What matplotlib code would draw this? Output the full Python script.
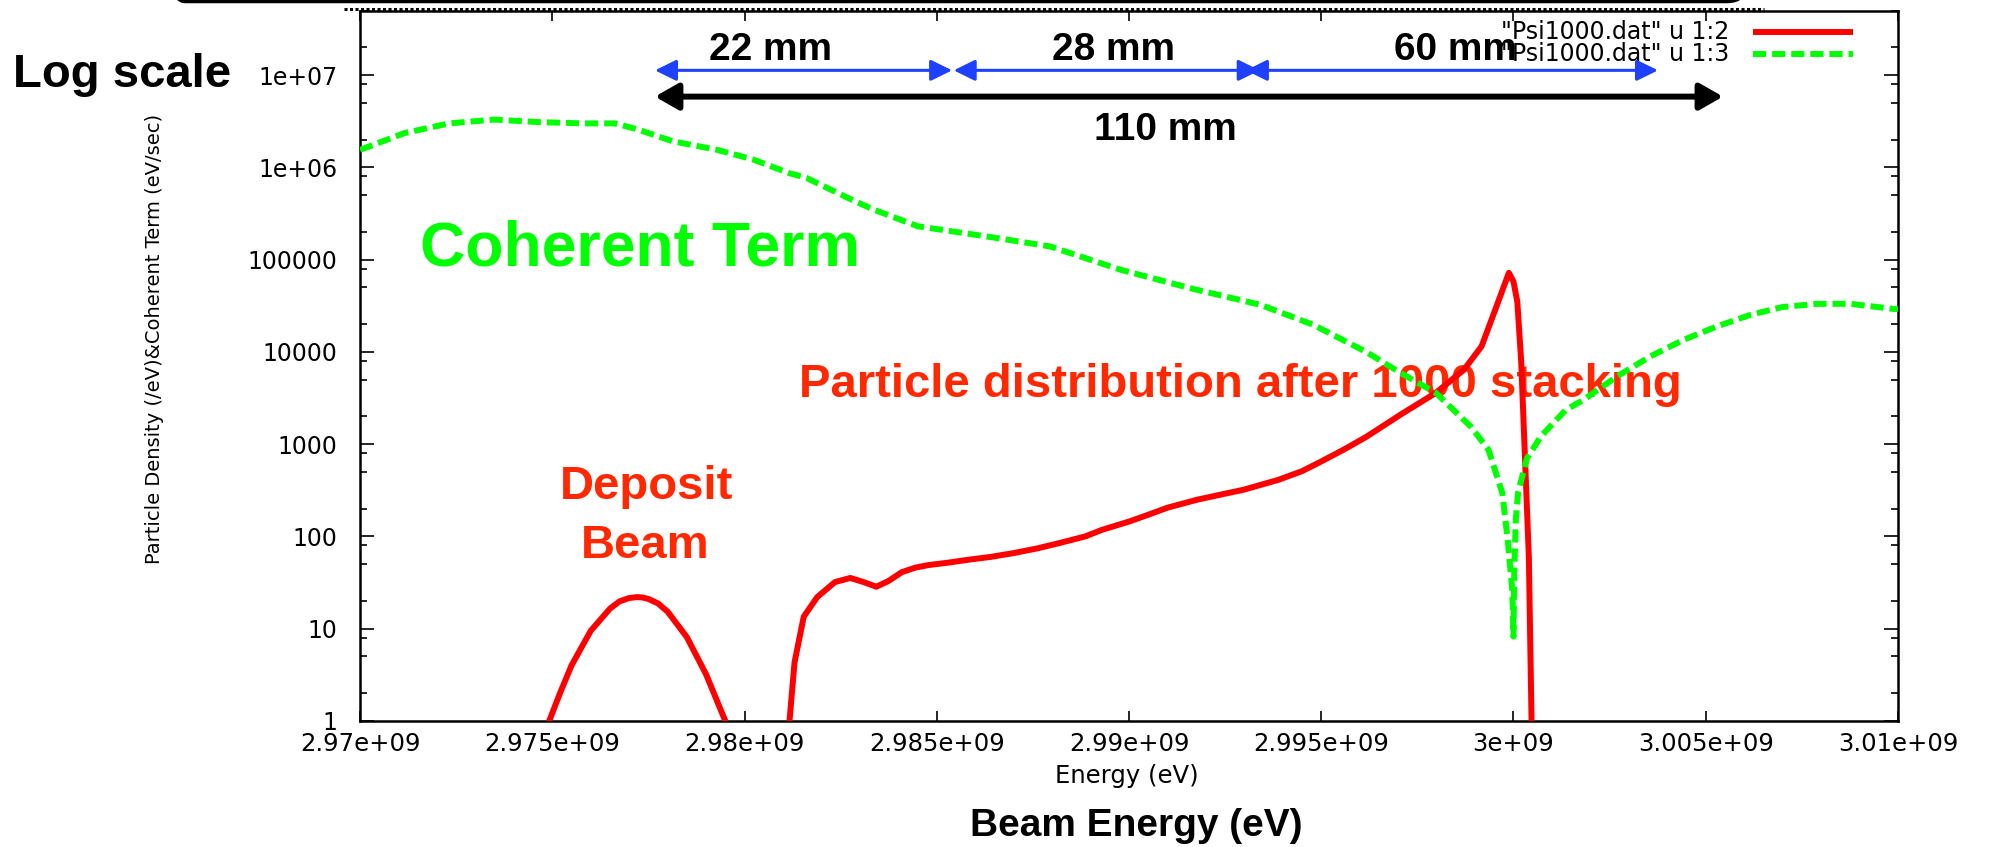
#!/usr/bin/python
# -*- coding: utf8 -*-
"""
Psi1000.dat : particle distribution and coherent term vs beam energy
"""

import numpy as np
import matplotlib
matplotlib.use('Agg')
import matplotlib.pyplot as plt
from matplotlib.ticker import FixedLocator, LogLocator, FuncFormatter, NullFormatter
from matplotlib.patches import FancyBboxPatch
from matplotlib.lines import Line2D

E0 = 2.97e9  # energies below are offsets from 2.97 GeV, in MeV

# "Psi1000.dat" u 1:2 -- particle density (/eV), zeros where gnuplot drops the log
red_mev = [0.0, 4.80, 4.92, 5.20, 5.50, 6.00, 6.50, 6.75, 7.00, 7.20, 7.35, 7.50,
           7.75, 8.00, 8.50, 9.00, 9.50, 9.65, 10.30, 11.05, 11.17, 11.30, 11.54,
           11.89, 12.35, 12.75, 13.10, 13.43, 13.75, 14.09, 14.45, 14.79, 15.30,
           15.83, 16.40, 17.00, 17.60, 18.15, 18.86, 19.30, 20.00, 20.47, 21.00,
           21.77, 22.40, 22.97, 23.88, 24.50, 25.00, 25.60, 26.17, 27.07, 27.98,
           28.71, 29.17, 29.53, 29.88, 30.00, 30.10, 30.20, 30.30, 30.40, 30.47,
           30.60, 40.00]
red_val = [0, 0, 1.0, 2.0, 4.0, 9.5, 16.5, 19.8, 21.5, 22.0, 21.8, 21.0,
           18.8, 15.3, 8.1, 3.2, 1.0, 0, 0, 0, 1.0, 4.3, 13.5,
           22, 32, 35.5, 32, 28.5, 33, 41, 46, 49, 52,
           56, 60, 66, 74, 84, 100, 118, 145, 170, 205,
           250, 285, 320, 410, 510, 650, 880, 1200, 2100, 3600,
           6400, 11500, 29000, 72000, 58000, 35000, 8000, 700, 60, 1.0,
           0, 0]

# "Psi1000.dat" u 1:3 -- coherent term (eV/sec)
green_mev = [0.0, 1.16, 2.32, 3.48, 4.64, 5.80, 6.62, 7.20, 8.13, 9.29, 10.22,
             11.15, 11.61, 12.77, 13.35, 14.51, 15.68, 16.83, 17.95, 19.77, 21.60,
             23.42, 24.79, 26.17, 27.07, 27.98, 28.89, 29.35, 29.71, 29.85, 29.97,
             30.00, 30.02, 30.06, 30.12, 30.35, 30.71, 30.95, 31.36, 31.82, 32.69,
             33.56, 34.42, 35.29, 36.16, 37.00, 37.90, 38.77, 39.90, 40.00]
green_val = [1.55e6, 2.36e6, 3.0e6, 3.3e6, 3.1e6, 3.0e6, 3.0e6, 2.6e6, 1.92e6, 1.55e6, 1.22e6,
             8.7e5, 7.7e5, 4.5e5, 3.5e5, 2.3e5, 1.95e5, 1.65e5, 1.39e5, 7.8e4, 4.9e4,
             3.24e4, 1.97e4, 1.0e4, 5.9e3, 3.6e3, 1.55e3, 870, 295, 92, 26,
             8.2, 40, 150, 300, 700, 1210, 1550, 2350, 3020, 5420,
             8950, 13500, 18900, 25200, 30700, 33200, 33200, 29200, 29000]

x_ticks = [2.97e9, 2.975e9, 2.98e9, 2.985e9, 2.99e9, 2.995e9, 3.0e9, 3.005e9, 3.01e9]
legend_labels = ['"Psi1000.dat" u 1:2', '"Psi1000.dat" u 1:3']

# length bars (start, end energy in eV) and their labels
blue_spans = [(2.97767e9, 2.98540e9), (2.98544e9, 2.99340e9), (2.99304e9, 3.00376e9)]
blue_labels = ['22 mm', '28 mm', '60 mm']
total_span = (2.97767e9, 3.00545e9)
total_label = '110 mm'

RED = '#ff0000'
GREEN = '#00ff00'
BLUE = '#1e40ff'
TEXT_RED = '#ff2800'
BOLD = dict(family='Liberation Sans', weight='bold')


def main():
    fig = plt.figure(figsize=(19.97, 8.47), dpi=100)
    ax = fig.add_axes([0.1803, 0.1488, 0.7701, 0.8386])

    e_red = E0 + 1e6 * np.array(red_mev)
    e_green = E0 + 1e6 * np.array(green_mev)
    ax.plot(e_red, red_val, color=RED, lw=4.3, zorder=3, solid_capstyle='butt',
            solid_joinstyle='round')
    ax.plot(e_green, green_val, color=GREEN, lw=4.3, zorder=4,
            linestyle=(0, (2.2, 1.0)), dash_capstyle='butt')

    ax.set_yscale('log')
    ax.set_xlim(2.97e9, 3.01e9)
    ax.set_ylim(1, 5e7)

    ax.xaxis.set_major_locator(FixedLocator(x_ticks))
    ax.xaxis.set_major_formatter(FuncFormatter(lambda v, p: '%g' % v))
    ax.yaxis.set_major_locator(LogLocator(base=10, numticks=20))
    ax.yaxis.set_minor_locator(LogLocator(base=10, subs=(2, 5, 8), numticks=20))
    ax.yaxis.set_major_formatter(FuncFormatter(lambda v, p: '%g' % v))
    ax.yaxis.set_minor_formatter(NullFormatter())

    ax.tick_params(axis='x', which='major', direction='in', length=7.2, width=1.2,
                   top=True, bottom=True, labelsize=17.5, pad=8)
    ax.tick_params(axis='y', which='major', direction='in', length=10, width=1.2,
                   left=True, right=True, labelsize=17, pad=16.5)
    ax.tick_params(axis='y', which='minor', direction='in', length=5, width=1.2,
                   left=True, right=True)
    for s in ax.spines.values():
        s.set_linewidth(1.8)

    ax.text(0.4987, -0.0873, 'Energy (eV)', transform=ax.transAxes,
            ha='center', va='baseline', fontsize=17.5)
    fig.text(155 / 1997, 1 - 339 / 847, 'Particle Density (/eV)&Coherent Term (eV/sec)',
             rotation=90, ha='center', va='center', fontsize=14)

    # legend, gnuplot style (text first, sample on the right)
    styles = [dict(color=RED, lw=4.3, solid_capstyle='butt'),
              dict(color=GREEN, lw=4.3, linestyle=(0, (2.2, 1.0)), dash_capstyle='butt')]
    for i, (lab, st) in enumerate(zip(legend_labels, styles)):
        y = 0.970 - 0.031 * i
        ax.add_line(Line2D([0.9057, 0.9707], [y, y], transform=ax.transAxes, **st))
        ax.text(0.890, y - 0.0095, lab, transform=ax.transAxes,
                ha='right', va='baseline', fontsize=17)

    # length bars
    for (a, b), lab, tx in zip(blue_spans, blue_labels, [0.2666, 0.4902, 0.712]):
        ax.annotate('', xy=(b, 0.916), xytext=(a, 0.916),
                    xycoords=('data', 'axes fraction'), textcoords=('data', 'axes fraction'),
                    arrowprops=dict(arrowstyle='<|-|>,head_length=0.65,head_width=0.32',
                                    mutation_scale=20, color=BLUE, lw=2.2,
                                    shrinkA=0, shrinkB=0))
        ax.text(tx, 0.9306, lab, transform=ax.transAxes, ha='center', va='baseline',
                fontsize=28, color='black', **BOLD)
    ax.annotate('', xy=(total_span[1], 0.879), xytext=(total_span[0], 0.879),
                xycoords=('data', 'axes fraction'), textcoords=('data', 'axes fraction'),
                arrowprops=dict(arrowstyle='<|-|>,head_length=0.7,head_width=0.4',
                                mutation_scale=20, color='black', lw=4.3,
                                shrinkA=0, shrinkB=0))
    ax.text(0.5234, 0.818, total_label, transform=ax.transAxes, ha='center',
            va='baseline', fontsize=28, **BOLD)

    # overlay captions
    ax.text(-0.2256, 0.8926, 'Log scale', transform=ax.transAxes, ha='left',
            va='baseline', fontsize=34, zorder=1, clip_on=False, **BOLD)
    ax.text(0.039, 0.6406, 'Coherent Term', transform=ax.transAxes, ha='left',
            va='baseline', fontsize=45, color=GREEN, zorder=1, **BOLD)
    ax.text(0.5722, 0.4561, 'Particle distribution after 1000 stacking',
            transform=ax.transAxes, ha='center', va='baseline', fontsize=34,
            color=TEXT_RED, zorder=1, **BOLD)
    ax.text(0.186, 0.3125, 'Deposit', transform=ax.transAxes, ha='center',
            va='baseline', fontsize=34, color=TEXT_RED, zorder=1, **BOLD)
    ax.text(0.1856, 0.2295, 'Beam', transform=ax.transAxes, ha='center',
            va='baseline', fontsize=34, color=TEXT_RED, zorder=1, **BOLD)
    ax.text(0.5046, -0.1619, 'Beam Energy (eV)', transform=ax.transAxes, ha='center',
            va='baseline', fontsize=28, clip_on=False, **BOLD)

    # bits of the slide frame above the plot
    box = FancyBboxPatch((1.65, 8.455), 15.82, 1.0,
                         boxstyle='round,pad=0,rounding_size=0.2',
                         transform=fig.dpi_scale_trans, fill=False,
                         edgecolor='black', lw=2.5, clip_on=False)
    fig.add_artist(box)
    fig.add_artist(Line2D([3.44, 17.64], [8.385, 8.385], transform=fig.dpi_scale_trans,
                          color='black', lw=2.2, linestyle=(0, (1, 0.8))))

    fig.savefig('out.png', dpi=100)


if __name__ == '__main__':
    main()
